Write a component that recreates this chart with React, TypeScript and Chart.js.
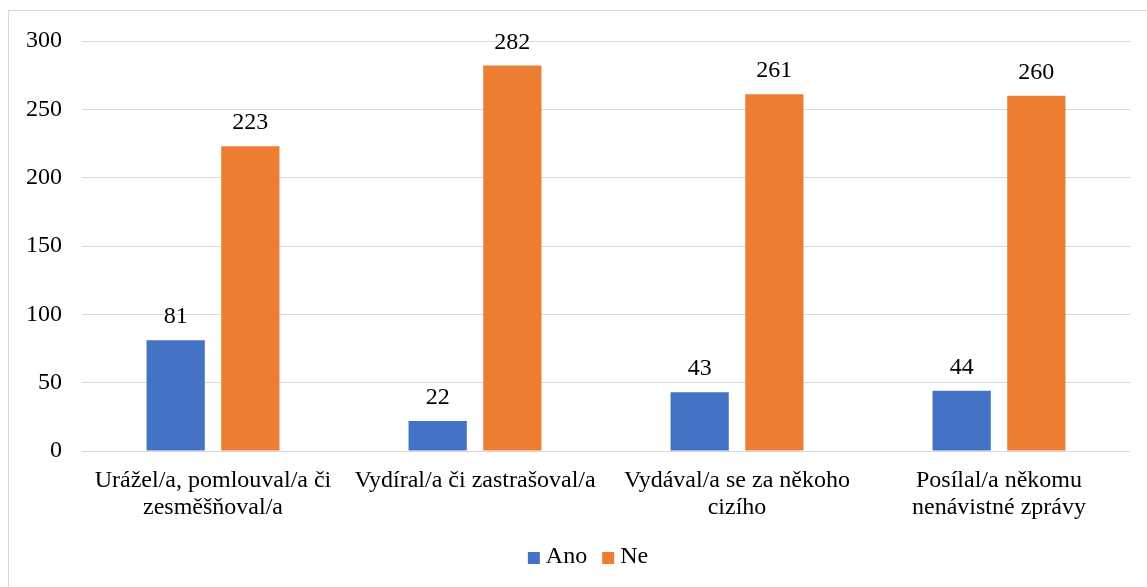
import React, { useEffect, useRef } from "react";
import { Chart, registerables } from "chart.js";

Chart.register(...registerables);

const categories: string[][] = [
  ["Urážel/a, pomlouval/a či", "zesměšňoval/a"],
  ["Vydíral/a či zastrašoval/a"],
  ["Vydával/a se za někoho", "cizího"],
  ["Posílal/a někomu", "nenávistné zprávy"],
];
const anoValues = [81, 22, 43, 44];
const neValues = [223, 282, 261, 260];
const seriesNames = ["Ano", "Ne"];
const seriesColors = ["#4472C4", "#ED7D31"];
const yTicks = [0, 50, 100, 150, 200, 250, 300];

const FONT = "'Liberation Serif', 'Times New Roman', serif";

const valueLabels = {
  id: "valueLabels",
  afterDatasetsDraw(chart: any) {
    const ctx = chart.ctx;
    ctx.save();
    ctx.font = `24px ${FONT}`;
    ctx.fillStyle = "#000";
    ctx.textAlign = "center";
    ctx.textBaseline = "alphabetic";
    chart.data.datasets.forEach((ds: any, i: number) => {
      const meta = chart.getDatasetMeta(i);
      meta.data.forEach((bar: any, j: number) => {
        ctx.fillText(String(ds.data[j]), bar.x, bar.y - 17);
      });
    });
    ctx.restore();
  },
};

const customLegend = {
  id: "customLegend",
  afterDraw(chart: any) {
    const ctx = chart.ctx;
    ctx.save();
    ctx.font = `24px ${FONT}`;
    ctx.textAlign = "left";
    ctx.textBaseline = "alphabetic";
    const box = 12;
    const gap = 6;
    const itemGap = 15;
    const items = chart.data.datasets.map((ds: any) => ({
      label: ds.label,
      color: ds.backgroundColor,
      w: box + gap + ctx.measureText(ds.label).width,
    }));
    const total = items.reduce((s: number, it: any) => s + it.w, 0) + itemGap * (items.length - 1);
    let x = 588 - total / 2;
    const baseline = 563;
    items.forEach((it: any) => {
      ctx.fillStyle = it.color;
      ctx.fillRect(x, baseline - 11, box, box);
      ctx.fillStyle = "#000";
      ctx.fillText(it.label, x + box + gap, baseline);
      x += it.w + itemGap;
    });
    ctx.restore();
  },
};

export default function App() {
  const ref = useRef<HTMLCanvasElement>(null);
  useEffect(() => {
    if (!ref.current) return;
    const chart = new Chart(ref.current, {
      type: "bar",
      data: {
        labels: categories,
        datasets: [
          { label: seriesNames[0], data: anoValues, backgroundColor: seriesColors[0], categoryPercentage: 0.57, barPercentage: 0.78 },
          { label: seriesNames[1], data: neValues, backgroundColor: seriesColors[1], categoryPercentage: 0.57, barPercentage: 0.78 },
        ],
      },
      options: {
        animation: false,
        responsive: false,
        layout: { padding: { left: 6, right: 17, top: 41, bottom: 58 } },
        plugins: {
          tooltip: { enabled: false },
          legend: { display: false },
        },
        scales: {
          x: {
            grid: { display: false },
            border: { display: false },
            ticks: { font: { family: FONT, size: 24, lineHeight: 1.13 }, color: "#000", padding: 8, maxRotation: 0, autoSkip: false },
            afterFit: (axis: any) => {
              axis.height = 78;
            },
          },
          y: {
            min: 0,
            max: 300,
            afterBuildTicks: (axis: any) => {
              axis.ticks = yTicks.map((v) => ({ value: v }));
            },
            grid: { color: "#d9d9d9", lineWidth: 1, drawTicks: false },
            border: { display: false },
            ticks: { font: { family: FONT, size: 24 }, color: "#000", padding: 20 },
          },
        },
      },
      plugins: [valueLabels, customLegend],
    });
    return () => chart.destroy();
  }, []);
  return (
    <div>
      <div
        style={{
          position: "fixed",
          left: 8,
          top: 10,
          width: 1200,
          height: 700,
          border: "1px solid #d9d9d9",
          boxSizing: "border-box",
        }}
      />
      <canvas
        ref={ref}
        width={1147}
        height={587}
        style={{ position: "fixed", left: 0, top: 0, width: 1147, height: 587 }}
      />
    </div>
  );
}
